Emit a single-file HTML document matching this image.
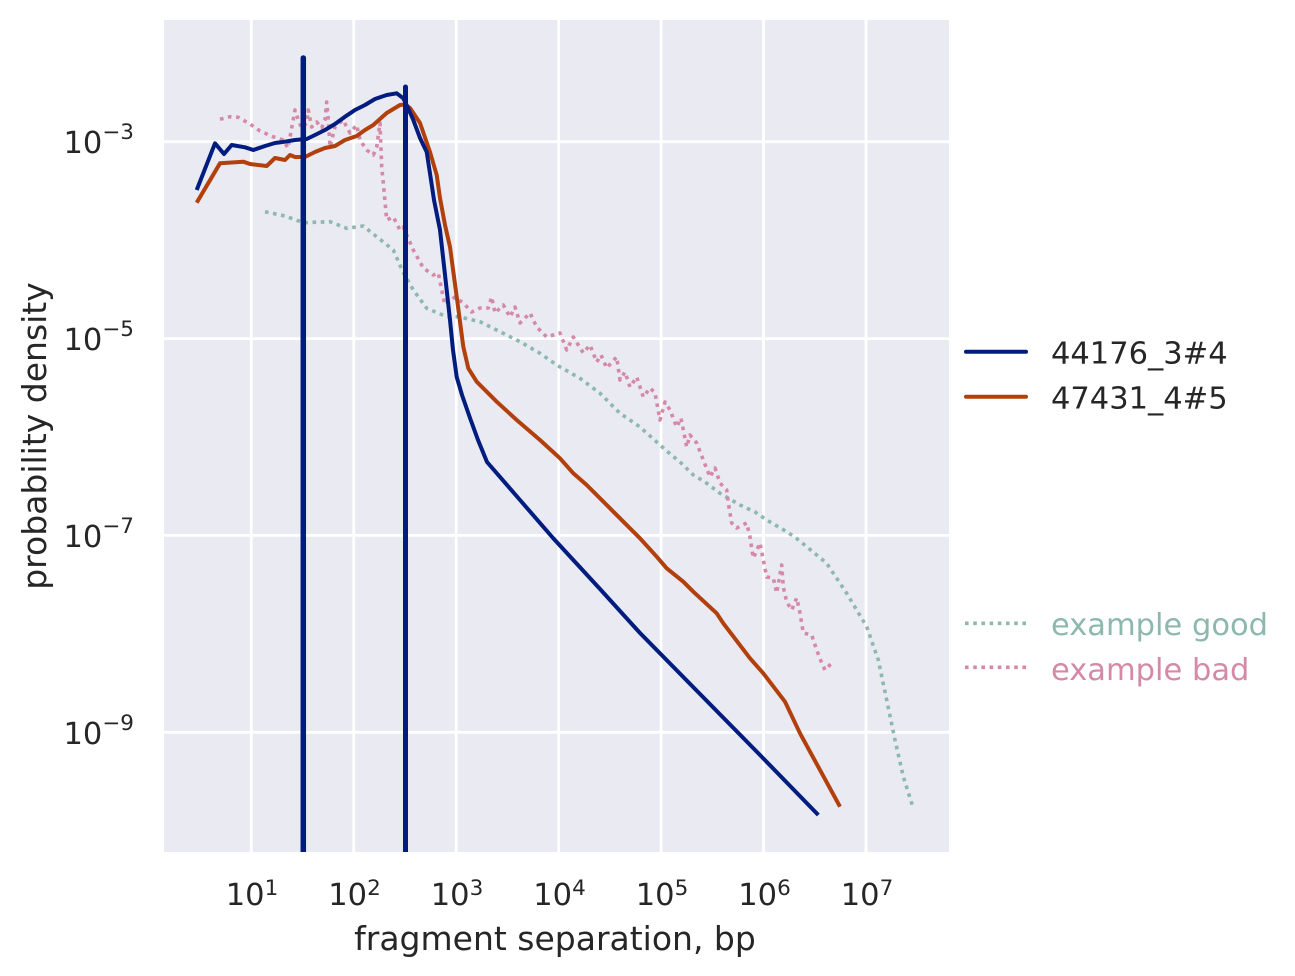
<!DOCTYPE html>
<html>
<head>
<meta charset="utf-8">
<style>
html,body{margin:0;padding:0;background:#fff;}
svg{display:block;}
text{font-family:"DejaVu Sans","Liberation Sans",sans-serif;}
</style>
</head>
<body>
<svg width="1295" height="976" viewBox="0 0 1295 976" xmlns="http://www.w3.org/2000/svg">
<defs>
<clipPath id="ax"><rect x="164" y="20" width="785" height="832"/></clipPath>
</defs>
<rect x="0" y="0" width="1295" height="976" fill="#ffffff"/>
<rect x="164" y="20" width="785" height="832" fill="#eaeaf2"/>
<g stroke="#ffffff" stroke-width="2.8">
<line x1="251.3" y1="20" x2="251.3" y2="852"/>
<line x1="353.75" y1="20" x2="353.75" y2="852"/>
<line x1="456.2" y1="20" x2="456.2" y2="852"/>
<line x1="558.65" y1="20" x2="558.65" y2="852"/>
<line x1="661.1" y1="20" x2="661.1" y2="852"/>
<line x1="763.55" y1="20" x2="763.55" y2="852"/>
<line x1="866" y1="20" x2="866" y2="852"/>
<line x1="164" y1="141.7" x2="949" y2="141.7"/>
<line x1="164" y1="338.6" x2="949" y2="338.6"/>
<line x1="164" y1="535.4" x2="949" y2="535.4"/>
<line x1="164" y1="732.3" x2="949" y2="732.3"/>
</g>
<g clip-path="url(#ax)" fill="none" stroke-linejoin="round">
<!-- example good -->
<polyline stroke="#8cb8ae" stroke-width="3.6" stroke-dasharray="3.6,4.6" points="265,211.7 285,216 303.3,222.7 330,221.7 346.7,228.3 363.3,226 376.7,236.7 393.3,250 403,272 413.3,290 426.7,308.3 446.7,316.7 458.3,316.7 480,321.7 500,331.7 520,341.7 540,353.3 556.7,365 580,378.3 600,393.3 620,413.3 640,427 666.7,451 680,462 693.3,475 705,482 720,493.3 740,505 755,512 766.7,520 786.7,531.7 796,538 806.7,546.7 826.7,563.3 846.7,593.3 866.7,626.7 878.3,660 886.7,700 895,740 903.3,776.7 913.3,808.3"/>
<!-- example bad -->
<polyline stroke="#d48aa7" stroke-width="3.6" stroke-dasharray="3.6,4.6" points="220,119.3 230,116.7 238.3,117.3 250,124 260,131 273,136.7 283,140 288,148 291.7,128 295,110 298.3,120 301.7,128 306.7,123 308.3,110 311.7,127 316.7,122 321.7,128 325,120 326.7,102 328.3,120 330,147 335,127 343,120 350,133 356.7,125 360,140 366.7,150 373.3,155 376.7,147 380,123 381.7,167 383.3,183 386.7,220 393.3,217 400,230 403.3,227 413.3,250 423.3,268 433.3,275 438.3,273 441.7,290 445,305 455,297 463.3,303 471.7,312 480,308 488.3,308 491.7,297 495,313 503.3,305 510,317 515,307 520,323 530,313 536.7,327 546.7,337 560,333 566.7,350 573.3,337 583.3,353 590,345 596.7,362 601,355 606.7,368 612,362 616.7,357 620,380 625,372 630,387 636.7,377 643.3,397 650,388 655,393 660,420 665,402 670,410 676.7,427 681,418 686.7,447 690,435 696.7,443 703.3,460 710,477 715,468 720,483 726.7,490 728.3,503 731.7,523 736.7,528 746.7,523 750,537 753.3,558 760,543 763.3,560 766.7,577 773.3,578 776.7,593 781.7,565 783.3,587 786.7,602 791.7,610 796.7,598 800,613 803.3,633 811.7,635 816.7,650 821.7,663 825,670 831.7,663"/>
<!-- 47431_4#5 -->
<polyline stroke="#b1400d" stroke-width="4" points="196.7,202.7 220,163.3 243.3,161.7 250,164 266.7,166 275,158 285,160 290,155 295,157 305,157 315,152 325,148 335,146 345,140 356.7,136 365,130 373.3,125 386.7,113 400,105 405,104.5 410,108 420,123 430,152 436.7,175 440,198 445,225 450,247 456.7,296.7 463.3,346.7 468.3,368.3 476.7,381.7 496.7,401.7 516.7,420 540,440 560,458.3 573.3,473.3 586.7,485 610,508.3 640,538.3 656.7,556.7 666.7,568.3 683.3,581.7 693.3,591.7 716.7,613.3 723.3,623.3 750,658.3 763.3,673.3 785,701.7 800,733.3 840,806.7"/>
<!-- 44176_3#4 -->
<polyline stroke="#001c7f" stroke-width="4" points="196.7,190 215,143.3 224,154 231.7,145 245,147.3 253.3,150 265,146 275,143 285,141.7 295,140 306.7,139 315,135 325,130 335,124 345,116.7 355,110 365,105 375,99 386.7,95 396.7,93.3 403.3,98.3 408,108 413.3,120 420,138 426.7,152 431,180 434,200 440,230 446.7,290 450,320 453,350 456.7,377 462,395 470,418 478,440 487,462 520,500 553,538 600,589 640,633 700,694 760,755 818.3,815"/>
<line x1="303.3" y1="58" x2="303.3" y2="860" stroke="#001c7f" stroke-width="5.5" stroke-linecap="round"/>
<line x1="405.5" y1="87" x2="405.5" y2="860" stroke="#001c7f" stroke-width="5" stroke-linecap="round"/>
</g>
<!-- y tick labels -->
<g fill="#262626" font-size="30.5" text-anchor="end">
<text x="134" y="153">10<tspan font-size="21.5" dy="-14">−3</tspan></text>
<text x="134" y="350">10<tspan font-size="21.5" dy="-14">−5</tspan></text>
<text x="134" y="547">10<tspan font-size="21.5" dy="-14">−7</tspan></text>
<text x="134" y="744">10<tspan font-size="21.5" dy="-14">−9</tspan></text>
</g>
<!-- x tick labels -->
<g fill="#262626" font-size="30.5" text-anchor="middle">
<text x="252" y="905">10<tspan font-size="21.5" dy="-10">1</tspan></text>
<text x="354.5" y="905">10<tspan font-size="21.5" dy="-10">2</tspan></text>
<text x="457" y="905">10<tspan font-size="21.5" dy="-10">3</tspan></text>
<text x="559.5" y="905">10<tspan font-size="21.5" dy="-10">4</tspan></text>
<text x="662" y="905">10<tspan font-size="21.5" dy="-10">5</tspan></text>
<text x="764.5" y="905">10<tspan font-size="21.5" dy="-10">6</tspan></text>
<text x="867" y="905">10<tspan font-size="21.5" dy="-10">7</tspan></text>
</g>
<text x="555" y="950" fill="#262626" font-size="33" text-anchor="middle">fragment separation, bp</text>
<text transform="translate(46,436) rotate(-90)" fill="#262626" font-size="33" text-anchor="middle">probability density</text>
<!-- legend -->
<line x1="966" y1="351.7" x2="1026" y2="351.7" stroke="#001c7f" stroke-width="4" stroke-linecap="round"/>
<text x="1051" y="363.3" fill="#262626" font-size="30.5">44176_3#4</text>
<line x1="966" y1="396.7" x2="1026" y2="396.7" stroke="#b1400d" stroke-width="4" stroke-linecap="round"/>
<text x="1051" y="408.3" fill="#262626" font-size="30.5">47431_4#5</text>
<line x1="965" y1="623.3" x2="1027" y2="623.3" stroke="#8cb8ae" stroke-width="3.6" stroke-dasharray="3.6,4.6"/>
<text x="1051" y="635" fill="#8cb8ae" font-size="30.5">example good</text>
<line x1="965" y1="667.3" x2="1027" y2="667.3" stroke="#d48aa7" stroke-width="3.6" stroke-dasharray="3.6,4.6"/>
<text x="1051" y="680" fill="#d48aa7" font-size="30.5">example bad</text>
</svg>
</body>
</html>
